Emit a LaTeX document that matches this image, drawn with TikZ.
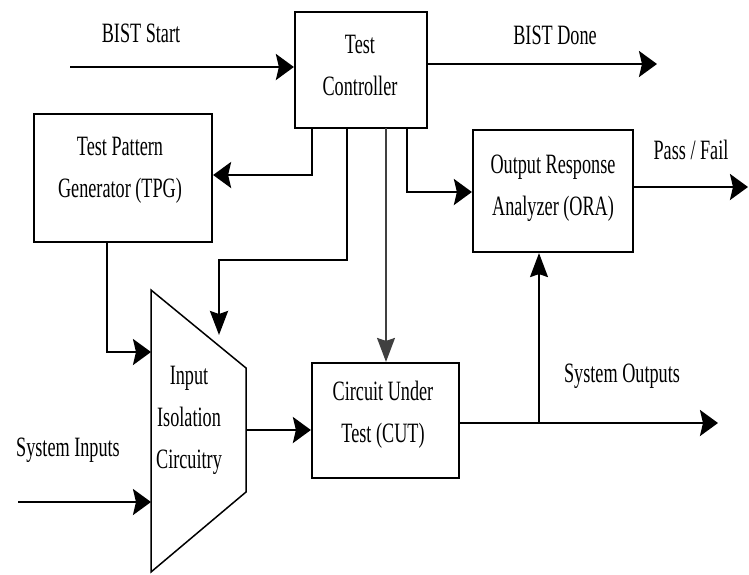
\documentclass[tikz,border=0pt]{standalone}
\usepackage{fontspec}
\setmainfont{Liberation Serif}
\usetikzlibrary{arrows.meta}
\newcommand\sqz[1]{\scalebox{0.65}[1]{#1}}
\newcommand\twol[2]{\sqz{\begin{tabular}{@{}c@{}}#1\\#2\end{tabular}}}
\tikzset{
  blk/.style={draw, line width=2.2pt, minimum width=#1, inner sep=0pt},
  lbl/.style={inner sep=0pt, font=\fontsize{28}{42}\selectfont},
  harr/.style={line width=2.6pt, -{Stealth[length=18pt,width=26pt,inset=3pt]}},
  varr/.style={line width=2.6pt, -{Stealth[length=24pt,width=18pt,inset=3pt]}},
  tvarr/.style={line width=1.5pt, -{Stealth[length=24pt,width=18pt,inset=3pt]}},
}
\begin{document}
\begin{tikzpicture}[x=1pt,y=-1pt]
\useasboundingbox (0,0) rectangle (749,574);
% boxes
\node[blk=132pt, minimum height=116pt] (tc) at (361,70) {};
\node[blk=178pt, minimum height=128pt] (tpg) at (123,178) {};
\node[blk=160pt, minimum height=122pt] (ora) at (553,191) {};
\node[blk=147pt, minimum height=115pt] (cut) at (385.5,420.5) {};
% trapezoid (input isolation circuitry)
\coordinate (iTL) at (151,290);
\coordinate (iTR) at (246,368);
\coordinate (iBR) at (246,492);
\coordinate (iBL) at (151,572);
\draw[line width=1.5pt, line join=miter] (iTL) -- (iTR) -- (iBR) -- (iBL) -- cycle;
% box texts
\node[lbl] (tct) at (360,66) {\twol{Test}{Controller}};
\node[lbl] (tpgt) at (120,168) {\twol{Test Pattern}{Generator (TPG)}};
\node[lbl] (orat) at (553,186) {\twol{Output Response}{Analyzer (ORA)}};
\node[lbl] (cutt) at (383,413) {\twol{Circuit Under}{Test (CUT)}};
\node[lbl] (iict) at (189,418) {\sqz{\begin{tabular}{@{}c@{}}Input\\Isolation\\Circuitry\end{tabular}}};
% free labels
\node[lbl] (lbs) at (141,33) {\sqz{BIST Start}};
\node[lbl] (lbd) at (555,35) {\sqz{BIST Done}};
\node[lbl] (lpf) at (691,150) {\sqz{Pass / Fail}};
\node[lbl] (lso) at (622,376) {\sqz{System Outputs}};
\node[lbl] (lsi) at (68,450) {\sqz{System Inputs}};
% endpoints
\coordinate (bs) at (70,67);
\coordinate (bd) at (657,64);
\coordinate (pf) at (748,187);
\coordinate (so) at (718,423);
\coordinate (si) at (18,502);
\coordinate (c1) at (312,175);
\coordinate (c2) at (347,260);
\coordinate (c2b) at (219,335);
\coordinate (c3) at (386,128);
\coordinate (c4) at (407,192);
\coordinate (tp) at (107,352);
\coordinate (br) at (539,423);
% connectors
\draw[harr] (bs) -- (bs -| tc.west);
\draw[harr] (tc.east |- bd) -- (bd);
\draw[harr] (c1 |- tc.south) -- (c1) -- (c1 -| tpg.east);
\draw[varr] (c2 |- tc.south) -- (c2) -- (c2 -| c2b) -- (c2b);
\draw[tvarr, black!75] (c3) -- (c3 |- cut.north);
\draw[harr] (c4 |- tc.south) -- (c4) -- (c4 -| ora.west);
\draw[harr] (tp |- tpg.south) -- (tp) -- (tp -| iTL);
\draw[harr] (si) -- (si -| iTL);
\draw[harr] (iBR |- 0,430) -- (cut.west |- 0,430);
\draw[harr] (cut.east |- so) -- (so);
\draw[tvarr] (br) -- (br |- ora.south);
\draw[harr] (ora.east |- pf) -- (pf);
\end{tikzpicture}
\end{document}
